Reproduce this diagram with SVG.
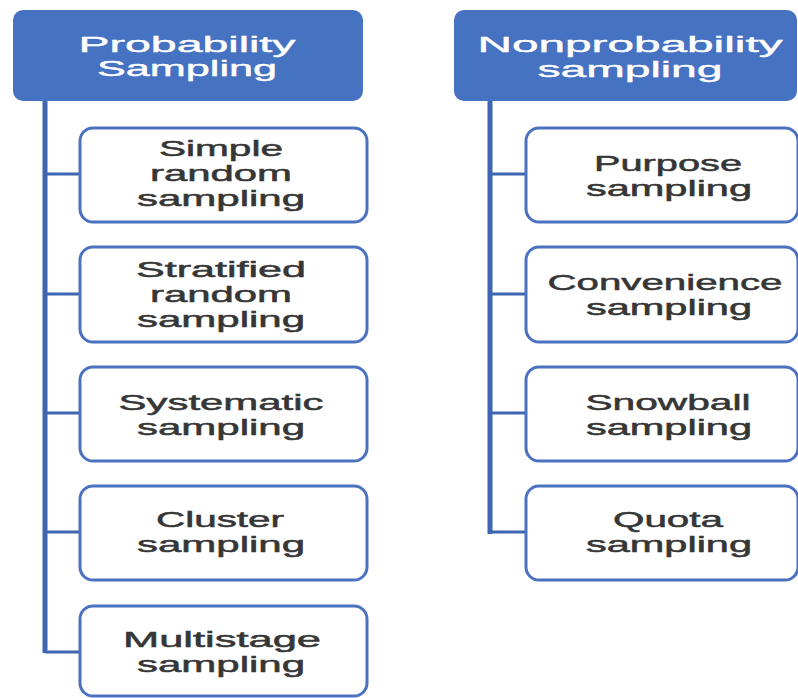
<svg xmlns="http://www.w3.org/2000/svg" width="798" height="698" viewBox="0 0 798 698">
<style>
.hdr{fill:#4672c2;stroke:#4672c2;stroke-width:2}
.box{fill:#ffffff;stroke:#4a72c0;stroke-width:3}
.ht{font-family:"Liberation Sans",Arial,sans-serif;font-size:22px;fill:#ffffff;stroke:#ffffff;stroke-width:0.4;text-anchor:middle}
.bt{font-family:"Liberation Sans",Arial,sans-serif;font-size:22px;fill:#363636;stroke:#363636;stroke-width:0.5;text-anchor:middle}
.ln{stroke:#3f66b0;fill:none}
</style>
<rect width="798" height="698" fill="#ffffff"/>
<g id="connectors">
<line class="ln" x1="45" y1="100" x2="45" y2="653" stroke-width="5"/>
<line class="ln" x1="45" y1="174" x2="80" y2="174" stroke-width="3"/>
<line class="ln" x1="45" y1="294" x2="80" y2="294" stroke-width="3"/>
<line class="ln" x1="45" y1="413" x2="80" y2="413" stroke-width="3"/>
<line class="ln" x1="45" y1="532" x2="80" y2="532" stroke-width="3"/>
<line class="ln" x1="45" y1="652" x2="80" y2="652" stroke-width="3"/>
<line class="ln" x1="490" y1="100" x2="490" y2="534" stroke-width="5"/>
<line class="ln" x1="490" y1="174" x2="526" y2="174" stroke-width="3"/>
<line class="ln" x1="490" y1="294" x2="526" y2="294" stroke-width="3"/>
<line class="ln" x1="490" y1="413" x2="526" y2="413" stroke-width="3"/>
<line class="ln" x1="490" y1="532" x2="526" y2="532" stroke-width="3"/>
</g>
<g id="prob">
<rect class="hdr" x="14" y="11" width="348" height="89" rx="9"/>
<text class="ht" x="187" y="52" textLength="217" lengthAdjust="spacingAndGlyphs">Probability</text>
<text class="ht" x="187" y="76" textLength="180" lengthAdjust="spacingAndGlyphs">Sampling</text>
</g>
<g id="nonprob">
<rect class="hdr" x="455" y="11" width="341" height="89" rx="9"/>
<text class="ht" x="630" y="52" textLength="305" lengthAdjust="spacingAndGlyphs">Nonprobability</text>
<text class="ht" x="630" y="77" textLength="185" lengthAdjust="spacingAndGlyphs">sampling</text>
</g>
<g id="simple">
<rect class="box" x="80" y="128" width="287" height="94" rx="13"/>
<text class="bt" x="221" y="156" textLength="124" lengthAdjust="spacingAndGlyphs">Simple</text>
<text class="bt" x="221" y="181" textLength="142" lengthAdjust="spacingAndGlyphs">random</text>
<text class="bt" x="221" y="206" textLength="168" lengthAdjust="spacingAndGlyphs">sampling</text>
</g>
<g id="stratified">
<rect class="box" x="80" y="247" width="287" height="95" rx="13"/>
<text class="bt" x="221" y="277" textLength="170" lengthAdjust="spacingAndGlyphs">Stratified</text>
<text class="bt" x="221" y="302" textLength="142" lengthAdjust="spacingAndGlyphs">random</text>
<text class="bt" x="221" y="327" textLength="168" lengthAdjust="spacingAndGlyphs">sampling</text>
</g>
<g id="systematic">
<rect class="box" x="80" y="367" width="287" height="94" rx="13"/>
<text class="bt" x="221" y="410" textLength="205" lengthAdjust="spacingAndGlyphs">Systematic</text>
<text class="bt" x="221" y="435" textLength="168" lengthAdjust="spacingAndGlyphs">sampling</text>
</g>
<g id="cluster">
<rect class="box" x="80" y="486" width="287" height="94" rx="13"/>
<text class="bt" x="220" y="527" textLength="128" lengthAdjust="spacingAndGlyphs">Cluster</text>
<text class="bt" x="221" y="552" textLength="168" lengthAdjust="spacingAndGlyphs">sampling</text>
</g>
<g id="multistage">
<rect class="box" x="80" y="606" width="287" height="90" rx="13"/>
<text class="bt" x="222" y="647" textLength="198" lengthAdjust="spacingAndGlyphs">Multistage</text>
<text class="bt" x="221" y="672" textLength="168" lengthAdjust="spacingAndGlyphs">sampling</text>
</g>
<g id="purpose">
<rect class="box" x="526" y="128" width="272" height="94" rx="13"/>
<text class="bt" x="668" y="171" textLength="148" lengthAdjust="spacingAndGlyphs">Purpose</text>
<text class="bt" x="669" y="196" textLength="166" lengthAdjust="spacingAndGlyphs">sampling</text>
</g>
<g id="convenience">
<rect class="box" x="526" y="247" width="272" height="95" rx="13"/>
<text class="bt" x="665" y="290" textLength="235" lengthAdjust="spacingAndGlyphs">Convenience</text>
<text class="bt" x="669" y="315" textLength="166" lengthAdjust="spacingAndGlyphs">sampling</text>
</g>
<g id="snowball">
<rect class="box" x="526" y="367" width="272" height="94" rx="13"/>
<text class="bt" x="668" y="410" textLength="165" lengthAdjust="spacingAndGlyphs">Snowball</text>
<text class="bt" x="669" y="435" textLength="166" lengthAdjust="spacingAndGlyphs">sampling</text>
</g>
<g id="quota">
<rect class="box" x="526" y="486" width="272" height="94" rx="13"/>
<text class="bt" x="668" y="527" textLength="110" lengthAdjust="spacingAndGlyphs">Quota</text>
<text class="bt" x="669" y="552" textLength="166" lengthAdjust="spacingAndGlyphs">sampling</text>
</g>
</svg>
